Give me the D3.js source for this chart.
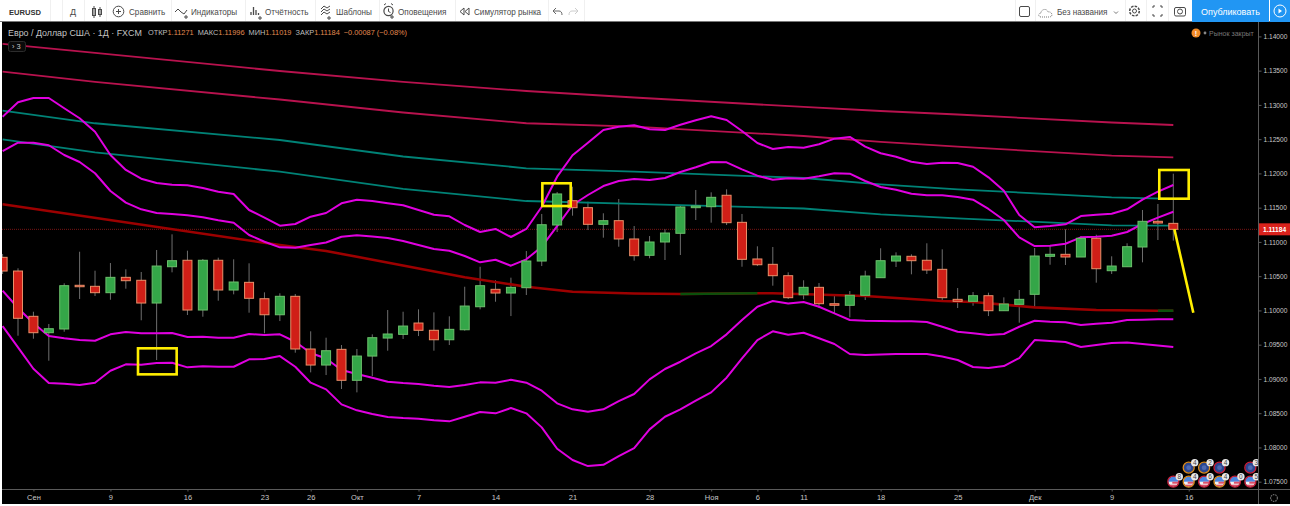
<!DOCTYPE html>
<html>
<head>
<meta charset="utf-8">
<script src="https://cdn.jsdelivr.net/npm/d3@7"></script>
<style>
html,body{margin:0;padding:0;background:#fff;overflow:hidden}
svg{display:block;font-family:"Liberation Sans",Arial,sans-serif}
</style>
</head>
<body>
<svg id="chart" width="1290" height="506"></svg>
<script>
// EURUSD daily candles
const opens=[1.10775,1.10575,1.09914,1.09675,1.09729,1.10367,1.10352,1.10259,1.10483,1.1044,
1.10108,1.10638,1.10732,1.10006,1.10732,1.10298,1.1041,1.10171,1.09937,1.10206,
1.09437,1.09203,1.09432,1.0898,1.09334,1.09597,1.09651,1.09816,1.0971,1.09572,
1.09718,1.10054,1.10308,1.10254,1.10332,1.10721,1.11247,1.11602,1.115,1.11257,
1.1131,1.11043,1.10805,1.10999,1.11126,1.115,1.11514,1.11681,1.11286,1.10751,
1.10673,1.10507,1.10229,1.10337,1.10098,1.10075,1.10221,1.10478,1.10721,1.1079,
1.10732,1.106,1.10162,1.10133,1.10215,1.09996,1.10089,1.10235,1.1079,1.10819,
1.1078,1.11053,1.1058,1.10638,1.10926,1.11301,1.11271];
const closes=[1.10575,1.09885,1.09675,1.09733,1.10361,1.10346,1.10259,1.10483,1.10434,1.10108,
1.10648,1.10726,1.10006,1.10732,1.10298,1.10415,1.10177,1.09937,1.10206,1.09437,
1.09203,1.09412,1.0898,1.09334,1.09602,1.09656,1.09772,1.0971,1.09572,1.09724,
1.10064,1.10361,1.10254,1.10337,1.10721,1.11251,1.117,1.115,1.11257,1.1131,
1.11043,1.10799,1.10999,1.1113,1.1151,1.11524,1.11651,1.11281,1.10746,1.10667,
1.10507,1.10186,1.10337,1.10098,1.10075,1.10221,1.10502,1.10726,1.10794,1.10726,
1.1059,1.10186,1.10133,1.10215,1.09996,1.10094,1.10162,1.10794,1.10819,1.1078,
1.11053,1.10609,1.10648,1.1093,1.11301,1.11276,1.11184];
const highs=[1.10824,1.10615,1.09981,1.09802,1.10396,1.10857,1.1058,1.10692,1.106,1.10561,
1.10882,1.11111,1.10872,1.10751,1.1077,1.10746,1.10688,1.10264,1.1025,1.1024,
1.09695,1.09602,1.09495,1.09437,1.09651,1.10006,1.09981,1.10016,1.09972,1.09914,
1.10346,1.10638,1.1044,1.10478,1.10867,1.11408,1.11729,1.11806,1.11587,1.11418,
1.11627,1.11232,1.11086,1.11184,1.11524,1.11758,1.11724,1.11768,1.11408,1.10936,
1.10926,1.10556,1.1044,1.104,1.1021,1.10283,1.1058,1.10907,1.10848,1.10819,
1.1098,1.10892,1.10327,1.10269,1.10259,1.10191,1.10298,1.10911,1.10945,1.11184,
1.11086,1.11105,1.1079,1.1098,1.11466,1.11554,1.11996];
const lows=[1.10532,1.09631,1.09587,1.09266,1.09689,1.10167,1.1021,1.10156,1.10317,1.09856,
1.09276,1.10556,1.09933,1.09908,1.10142,1.10235,1.09967,1.09666,1.09845,1.09383,
1.09096,1.09057,1.08853,1.08804,1.09042,1.09412,1.09583,1.09626,1.09412,1.09495,
1.09704,1.10016,1.10127,1.09918,1.10225,1.10648,1.11145,1.11383,1.11174,1.11062,
1.1093,1.10726,1.10761,1.10736,1.10809,1.1132,1.11281,1.11247,1.10638,1.10648,
1.10361,1.10167,1.10162,1.10035,1.09958,1.09899,1.10152,1.10478,1.10634,1.10527,
1.10532,1.10142,1.10035,1.10069,1.09918,1.09996,1.09821,1.10035,1.10667,1.10663,
1.1078,1.10405,1.10532,1.10638,1.10702,1.11028,1.11019];

// Envelope bands, one value per candle
const bandUpperOuter=[1.12828,1.13038,1.13101,1.13101,1.12951,1.12805,1.12609,1.12269,1.1205,1.11923,
1.1186,1.11835,1.11827,1.11787,1.11733,1.117,1.11466,1.11354,1.11237,1.11262,
1.11368,1.11422,1.11564,1.11616,1.11597,1.11564,1.11535,1.11466,1.11397,1.11374,
1.11247,1.11145,1.11189,1.11072,1.11189,1.11514,1.11952,1.12265,1.12449,1.12634,
1.12682,1.12703,1.12644,1.12634,1.12711,1.12776,1.12834,1.1278,1.12619,1.12444,
1.12357,1.12386,1.12376,1.12425,1.12507,1.12532,1.1239,1.12294,1.12244,1.12171,
1.12138,1.12157,1.12152,1.12098,1.11943,1.11748,1.11393,1.11213,1.11232,1.11257,
1.11378,1.11397,1.11412,1.11476,1.11616,1.11733,1.11831];
const bandUpperInner=[1.12327,1.12449,1.12449,1.12411,1.12269,1.12167,1.12002,1.11743,1.11573,1.11476,
1.11422,1.11408,1.11389,1.11359,1.11316,1.11281,1.11101,1.11003,1.10921,1.10916,
1.10955,1.10992,1.11076,1.11097,1.11079,1.11057,1.11013,1.10955,1.10897,1.10872,
1.10794,1.10702,1.1074,1.10653,1.10746,1.1093,1.11232,1.11539,1.11685,1.11816,
1.11889,1.11919,1.11904,1.11933,1.12021,1.12089,1.12167,1.12162,1.1206,1.11967,
1.11908,1.11929,1.11923,1.11958,1.12002,1.11996,1.11889,1.11802,1.11762,1.11704,
1.11681,1.11681,1.11656,1.11616,1.11481,1.1132,1.11067,1.1094,1.10945,1.10974,
1.11067,1.11076,1.11091,1.11145,1.11262,1.11354,1.11441];
const bandLowerInner=[1.10288,1.10035,1.09812,1.09626,1.09593,1.09568,1.09558,1.09651,1.09685,1.09666,
1.09666,1.0967,1.09612,1.09616,1.09602,1.09602,1.09656,1.09641,1.09651,1.09543,
1.09378,1.09298,1.0913,1.09072,1.09018,1.08959,1.0894,1.08926,1.08901,1.08882,
1.08911,1.0895,1.08945,1.08988,1.08945,1.08828,1.08644,1.08556,1.08521,1.08556,
1.08677,1.0878,1.08994,1.09145,1.09251,1.09374,1.0948,1.09651,1.0986,1.10054,
1.10137,1.10101,1.10123,1.10054,1.09958,1.0986,1.0985,1.09845,1.09841,1.09841,
1.09831,1.09762,1.09689,1.09666,1.09641,1.09656,1.09762,1.0985,1.09835,1.09826,
1.09787,1.09806,1.09821,1.0986,1.09864,1.0987,1.0987];
const bandLowerOuter=[1.09772,1.09461,1.09149,1.0894,1.0893,1.08911,1.08945,1.0912,1.09213,1.09207,
1.09232,1.09237,1.09169,1.09184,1.09178,1.09178,1.09286,1.09291,1.09334,1.09178,
1.08945,1.08848,1.08629,1.08542,1.08488,1.08444,1.08429,1.08419,1.08396,1.08381,
1.08448,1.08517,1.08498,1.08575,1.08498,1.08293,1.07981,1.07816,1.07728,1.07747,
1.07874,1.07991,1.08264,1.08448,1.08556,1.08682,1.08804,1.09018,1.09301,1.09568,
1.09695,1.09645,1.09675,1.09593,1.0951,1.09364,1.09349,1.09356,1.09364,1.09364,
1.09364,1.09327,1.09276,1.09174,1.09159,1.09188,1.09305,1.09568,1.09553,1.09539,
1.09466,1.09495,1.09524,1.09532,1.0951,1.09488,1.09466];

// Long-period channel lines, read at the bars in channelBars
const channelBars=[0,6,18,26,34,41,52,57,62,72,76];
const crimsonHigh=[1.1389,1.13758,1.13495,1.13335,1.13203,1.13108,1.1297,1.12911,1.1286,1.12743,1.12707];
const crimsonLow=[1.13485,1.13335,1.13079,1.12889,1.12732,1.12682,1.12546,1.12459,1.1239,1.12259,1.12235];
const tealHigh=[1.12916,1.12732,1.12488,1.12247,1.12075,1.12025,1.11933,1.11841,1.11768,1.11651,1.11627];
const tealLow=[1.12498,1.12308,1.12025,1.11773,1.11597,1.11554,1.11488,1.11403,1.11345,1.11243,1.11237];

// Slow moving average, with the stretches where it turns green
const averageBars=[0,18,21,23,30,34,37,41,44,49,50,56,61,63,67,71,75,76];
const averageValues=[1.11549,1.10955,1.10867,1.10784,1.10483,1.10346,1.10273,1.10247,1.1024,1.1025,1.1025,1.1021,1.10137,1.10123,1.10045,1.10006,1.09996,1.09996];
const averageGreenSpans=[[44,49],[75,76]];

const lastPrice=1.11184;
const priceTicks=[1.14,1.135,1.13,1.125,1.12,1.115,1.11,1.105,1.1,1.095,1.09,1.085,1.08,1.075];
const dateBars=[2,7,12,17,20,23,27,32,37,42,46,49,52,57,62,67,72,77];
const dateLabels=["Сен","9","16","23","26","Окт","7","14","21","28","Ноя","6","11","18","25","Дек","9","16"];

// Hand-drawn annotations in bar/price units
const annotationBoxes=[[8.79,11.3,1.09447,1.09067],[35.04,36.88,1.11856,1.11524],[75.09,77.0,1.1205,1.11631]];
const annotationArrow=[[76.07,1.11184],[77.3,1.09967]];

// Economic event markers along the bottom edge
const eventBarsLow=[76,77,78,79,80,81];
const eventCountsLow=["8","4","6","4","0","5"];
const eventRingsLow=["#c8203c","#d98a1e","#c8203c","#d98a1e","#c8203c","#c8203c"];
const eventBarsHigh=[77,78,79,81];
const eventCountsHigh=["4","2","4","3"];
const eventRingsHigh=["#d98a1e","#d98a1e","#c8203c","#c8203c"];

const toolbarItems=["Сравнить","Индикаторы","Отчётность","Шаблоны","Оповещения","Симулятор рынка"];
const toolbarItemX=[129,191,265,336,398,474];
const toolbarDividers=[50,62,84,106,171,245,315,379,455,548,584];

const svg=d3.select("#chart");
const W=1290,H=506,plotTop=22,axisX=1258,axisY=489;

const x=d3.scaleLinear().domain([0,76]).range([2.6,1173.3]);
const y=d3.scaleLinear().domain([1.14,1.075]).range([36.4,481.7]);

const defs=svg.append("defs");
defs.append("clipPath").attr("id","plot").append("rect").attr("x",2).attr("y",plotTop).attr("width",axisX-2).attr("height",axisY-plotTop);

svg.append("rect").attr("width",W).attr("height",H).attr("fill","#fff");
svg.append("rect").attr("x",2).attr("y",plotTop).attr("width",W-2).attr("height",H-plotTop-2).attr("fill","#000");

const plot=svg.append("g").attr("clip-path","url(#plot)");

// Last price guide
plot.append("line").attr("x1",2).attr("x2",axisX).attr("y1",y(lastPrice)).attr("y2",y(lastPrice))
  .attr("stroke","#7a1414").attr("stroke-width",1).attr("stroke-dasharray","1 1");

const bars=d3.range(opens.length);

// Wicks sit beneath the indicator lines, bodies above them
plot.append("g").selectAll("line").data(bars).join("line")
  .attr("x1",i=>x(i)).attr("x2",i=>x(i))
  .attr("y1",i=>y(highs[i])).attr("y2",i=>y(lows[i]))
  .attr("stroke","#6e6e6e").attr("stroke-width",1);

const path=(xs,ys)=>d3.line().x((d,i)=>x(xs[i])).y(d=>y(d))(ys);

[[crimsonHigh,"#b8124e"],[crimsonLow,"#b8124e"],[tealHigh,"#008276"],[tealLow,"#008276"]].forEach(([vals,c])=>{
  plot.append("path").attr("d",path(channelBars,vals)).attr("fill","none").attr("stroke",c).attr("stroke-width",1.8);
});

plot.append("path").attr("d",path(averageBars,averageValues)).attr("fill","none").attr("stroke","#9c0000").attr("stroke-width",2.6);
averageGreenSpans.forEach(([a,b])=>{
  const keep=averageBars.map((d,i)=>i).filter(i=>averageBars[i]>=a&&averageBars[i]<=b);
  plot.append("path").attr("d",path(keep.map(i=>averageBars[i]),keep.map(i=>averageValues[i])))
    .attr("fill","none").attr("stroke","#0b500b").attr("stroke-width",2.6);
});

[bandUpperOuter,bandUpperInner,bandLowerInner,bandLowerOuter].forEach(vals=>{
  plot.append("path").attr("d",path(bars,vals)).attr("fill","none").attr("stroke","#e000e0").attr("stroke-width",2).attr("stroke-linejoin","round");
});

plot.append("g").selectAll("rect").data(bars).join("rect")
  .attr("x",i=>x(i)-4.5).attr("width",9)
  .attr("y",i=>y(Math.max(opens[i],closes[i])))
  .attr("height",i=>Math.max(0.8,Math.abs(y(opens[i])-y(closes[i]))))
  .attr("fill",i=>closes[i]>=opens[i]?"#34a648":"#d01f17")
  .attr("stroke",i=>closes[i]>=opens[i]?"#6cc06c":"#e8906a")
  .attr("stroke-width",1);

// Annotations
plot.append("g").selectAll("rect").data(annotationBoxes).join("rect")
  .attr("x",d=>x(d[0])).attr("width",d=>x(d[1])-x(d[0]))
  .attr("y",d=>y(d[2])).attr("height",d=>y(d[3])-y(d[2]))
  .attr("fill","none").attr("stroke","#ffee00").attr("stroke-width",2.6);
plot.append("line")
  .attr("x1",x(annotationArrow[0][0])).attr("y1",y(annotationArrow[0][1]))
  .attr("x2",x(annotationArrow[1][0])).attr("y2",y(annotationArrow[1][1]))
  .attr("stroke","#ffee00").attr("stroke-width",2.6);

// Event markers
function drawEvent(g,barIdx,row,count,ring,isFlag,idx){
  const cx=x(barIdx),cy=row;
  const id="ev"+idx;
  defs.append("clipPath").attr("id",id).append("circle").attr("cx",cx).attr("cy",cy).attr("r",5);
  const c=g.append("g");
  if(isFlag){
    const f=c.append("g").attr("clip-path",`url(#${id})`);
    f.append("rect").attr("x",cx-6).attr("y",cy-6).attr("width",12).attr("height",12).attr("fill","#f2f2f2");
    f.append("rect").attr("x",cx-6).attr("y",cy-6).attr("width",12).attr("height",6).attr("fill","#4a86e0");
    f.append("rect").attr("x",cx-1).attr("y",cy).attr("width",7).attr("height",2).attr("fill","#e0506a");
    f.append("rect").attr("x",cx-6).attr("y",cy+3).attr("width",12).attr("height",2).attr("fill","#e0506a");
  }else{
    c.append("circle").attr("cx",cx).attr("cy",cy).attr("r",5).attr("fill","#2a4690");
    c.append("circle").attr("cx",cx).attr("cy",cy).attr("r",2.4).attr("fill","#4e68b0");
  }
  c.append("circle").attr("cx",cx).attr("cy",cy).attr("r",5.5).attr("fill","none").attr("stroke",ring).attr("stroke-width",1.3);
  c.append("circle").attr("cx",cx+6).attr("cy",cy-5).attr("r",3.7).attr("fill","#e8e8e8");
  c.append("text").attr("x",cx+6).attr("y",cy-2.6).attr("text-anchor","middle").attr("font-size",6.5).attr("fill","#444").text(count);
}
const ev=plot.append("g");
eventBarsHigh.forEach((b,i)=>drawEvent(ev,b,y(1.07705),eventCountsHigh[i],eventRingsHigh[i],false,"h"+i));
eventBarsLow.forEach((b,i)=>drawEvent(ev,b,y(1.075),eventCountsLow[i],eventRingsLow[i],true,"l"+i));

// Right price axis
const axisColor="#5a5a5a", axisText="#c8c8c8";
svg.append("line").attr("x1",axisX+.5).attr("x2",axisX+.5).attr("y1",plotTop).attr("y2",H-2).attr("stroke",axisColor);
svg.append("line").attr("x1",2).attr("x2",W).attr("y1",axisY+.5).attr("y2",axisY+.5).attr("stroke",axisColor);

const yAxisG=svg.append("g").attr("transform",`translate(${axisX+.5},0)`)
  .call(d3.axisRight(y).tickValues(priceTicks).tickFormat(d3.format(".5f")).tickSize(3).tickPadding(2));
yAxisG.select(".domain").remove();
yAxisG.selectAll("line").attr("stroke",axisColor);
yAxisG.selectAll("text").attr("fill",axisText).attr("font-size",6.6).attr("font-family","inherit");

// Last price tag
svg.append("rect").attr("x",axisX+1).attr("y",y(lastPrice)-6).attr("width",W-axisX-1).attr("height",12).attr("fill","#d9221c");
svg.append("text").attr("x",axisX+5).attr("y",y(lastPrice)+2.5).attr("fill","#fff").attr("font-size",6.6).attr("font-weight","bold").text(d3.format(".5f")(lastPrice));

// Date axis
const xAxisG=svg.append("g").attr("transform",`translate(0,${axisY+.5})`)
  .call(d3.axisBottom(x).tickValues(dateBars).tickFormat((d,i)=>dateLabels[i]).tickSize(2).tickPadding(3));
xAxisG.select(".domain").remove();
xAxisG.selectAll("line").attr("stroke",axisColor);
xAxisG.selectAll("text").attr("fill",axisText).attr("font-size",7.5).attr("font-family","inherit");

// Settings gear in the axis corner
svg.append("circle").attr("cx",1274).attr("cy",498).attr("r",3.4).attr("fill","none").attr("stroke","#6a6a6a").attr("stroke-width",1.2).attr("stroke-dasharray","1.6 .8");

// Legend row
const legend=svg.append("text").attr("x",8).attr("y",35.5).attr("font-size",8.9).attr("fill","#c4c4c4");
legend.text("Евро / Доллар США · 1Д · FXCM");
const ohlc=svg.append("text").attr("x",148).attr("y",35).attr("font-size",7.4);
const ohlcLabels=["ОТКР","МАКС","МИН","ЗАКР"];
const ohlcValues=[opens[76],highs[76],lows[76],closes[76]];
ohlcLabels.forEach((l,i)=>{
  ohlc.append("tspan").attr("fill","#bdbdbd").attr("dx",i?4:0).text(l);
  ohlc.append("tspan").attr("fill","#e08a50").text(d3.format(".5f")(ohlcValues[i]));
});
ohlc.append("tspan").attr("fill","#e08a50").attr("dx",4).text("−0.00087 (−0.08%)");

// Collapsed indicators pill
svg.append("rect").attr("x",8.5).attr("y",41.5).attr("width",17).attr("height",10).attr("rx",2).attr("fill","#0a0a0a").attr("stroke","#2c2c2c");
svg.append("text").attr("x",12).attr("y",49).attr("font-size",7.5).attr("fill","#c8c8c8").text("›  3");

// Market status
svg.append("circle").attr("cx",1196).attr("cy",33).attr("r",4.5).attr("fill","#f08a28");
svg.append("text").attr("x",1196).attr("y",35.6).attr("text-anchor","middle").attr("font-size",7).attr("font-weight","bold").attr("fill","#fff").text("!");
svg.append("circle").attr("cx",1205).attr("cy",33).attr("r",1.4).attr("fill","#888");
svg.append("text").attr("x",1209).attr("y",35.5).attr("font-size",7).attr("fill","#777").text("Рынок закрыт");

// Toolbar
const bar=svg.append("g");
bar.append("rect").attr("width",W).attr("height",plotTop).attr("fill","#fff");
bar.append("line").attr("x1",0).attr("x2",W).attr("y1",plotTop-.5).attr("y2",plotTop-.5).attr("stroke","#777");
toolbarDividers.concat([1015,1035,1125,1146,1168,1192]).forEach(px=>{
  bar.append("line").attr("x1",px+.5).attr("x2",px+.5).attr("y1",0).attr("y2",plotTop-1).attr("stroke","#f0f0f0");
});
const ink="#4a4a4a";
const label=(t,px,o={})=>bar.append("text").attr("x",px).attr("y",o.y||14.5).attr("font-size",o.size||8.15).attr("fill",o.fill||ink).attr("font-weight",o.weight||null).attr("text-anchor",o.anchor||null).text(t);
label("EURUSD",9,{weight:"bold",size:7.6,fill:"#333"});
label("Д",70,{size:9});
// candle style glyph
bar.append("rect").attr("x",92.5).attr("y",8.5).attr("width",3).attr("height",7).attr("fill","none").attr("stroke",ink);
bar.append("line").attr("x1",94).attr("x2",94).attr("y1",6).attr("y2",18).attr("stroke",ink);
bar.append("rect").attr("x",98.5).attr("y",9.5).attr("width",3).attr("height",5).attr("fill","none").attr("stroke",ink);
bar.append("line").attr("x1",100).attr("x2",100).attr("y1",7).attr("y2",17).attr("stroke",ink);

toolbarItems.forEach((t,i)=>label(t,toolbarItemX[i]));

// Compare: circled plus
bar.append("circle").attr("cx",118.5).attr("cy",11.5).attr("r",5.3).attr("fill","none").attr("stroke",ink);
bar.append("path").attr("d","M116 11.5h5M118.5 9v5").attr("stroke",ink).attr("fill","none");
// Indicators: curve with plus
bar.append("path").attr("d","M175 12l3-3 3 3 3 2 3-4").attr("stroke",ink).attr("fill","none");
bar.append("path").attr("d","M184 17h4M186 15v4").attr("stroke",ink).attr("fill","none");
// Financials: bars with plus
bar.append("path").attr("d","M251 15v-3M253.5 15v-8M256 15v-5M258.5 15v-2").attr("stroke",ink).attr("stroke-width",1.3).attr("fill","none");
bar.append("path").attr("d","M258 18h4M260 16v4").attr("stroke",ink).attr("fill","none");
// Templates: wavy stack
bar.append("path").attr("d","M321 9l3-3 3 2 3-2M321 12l3-3 3 2 3-2M321 15l3-3 3 2 3-2").attr("stroke",ink).attr("fill","none");
bar.append("path").attr("d","M327 18h4M329 16v4").attr("stroke",ink).attr("fill","none");
// Alerts: clock with plus
bar.append("circle").attr("cx",388.5).attr("cy",11).attr("r",4.6).attr("fill","none").attr("stroke",ink).attr("stroke-width",1.2);
bar.append("path").attr("d","M384 5l2-1.5M393 5l-2-1.5M388.5 8.5v3l2 1").attr("stroke",ink).attr("fill","none");
bar.append("path").attr("d","M390 17h4M392 15v4").attr("stroke",ink).attr("fill","none");
// Replay: rewind
bar.append("path").attr("d","M464 8l-4 3.5 4 3.5zM469 8l-4 3.5 4 3.5z").attr("stroke",ink).attr("fill","none");
// Undo and redo
bar.append("path").attr("d","M553 11h6c2 0 3 1.5 3 4M553 11l3-3M553 11l3 3").attr("stroke","#666").attr("fill","none");
bar.append("path").attr("d","M578 11h-6c-2 0-3 1.5-3 4M578 11l-3-3M578 11l-3 3").attr("stroke","#ccc").attr("fill","none");

// Right side of the toolbar
bar.append("rect").attr("x",1019.5).attr("y",6.5).attr("width",10).attr("height",10).attr("rx",1.5).attr("fill","none").attr("stroke",ink);
bar.append("path").attr("d","M1041 17c-3 0-3-4 0-4 0-4 6-5 7-1 4-1 6 5 1 5z").attr("stroke","#777").attr("stroke-dasharray","1 1").attr("fill","none");
label("Без названия",1057);
bar.append("path").attr("d","M1114 11.5l2 2 2-2").attr("stroke","#777").attr("fill","none");
bar.append("circle").attr("cx",1134.5).attr("cy",11).attr("r",2).attr("fill","none").attr("stroke",ink);
bar.append("circle").attr("cx",1134.5).attr("cy",11).attr("r",4.8).attr("fill","none").attr("stroke",ink).attr("stroke-width",1.5).attr("stroke-dasharray","2.5 1.2");
bar.append("path").attr("d","M1153 8v-2h2M1160 6h2v2M1153 14v2h2M1162 14v2h-2").attr("stroke",ink).attr("fill","none");
bar.append("rect").attr("x",1174.5).attr("y",7.5).attr("width",11).attr("height",8.5).attr("rx",1.5).attr("fill","none").attr("stroke",ink);
bar.append("circle").attr("cx",1180).attr("cy",11.5).attr("r",2.5).attr("fill","none").attr("stroke",ink);
bar.append("rect").attr("x",1192).attr("y",0).attr("width",77).attr("height",plotTop).attr("fill","#2196f3");
label("Опубликовать",1230.5,{fill:"#fff",anchor:"middle",size:9});
bar.append("rect").attr("x",1270).attr("y",0).attr("width",20).attr("height",plotTop).attr("fill","#2196f3");
bar.append("circle").attr("cx",1280).attr("cy",11).attr("r",6).attr("fill","none").attr("stroke","#fff");
bar.append("path").attr("d","M1278.5 8.5l3.5 2.5-3.5 2.5z").attr("fill","#fff");
</script>
</body>
</html>
